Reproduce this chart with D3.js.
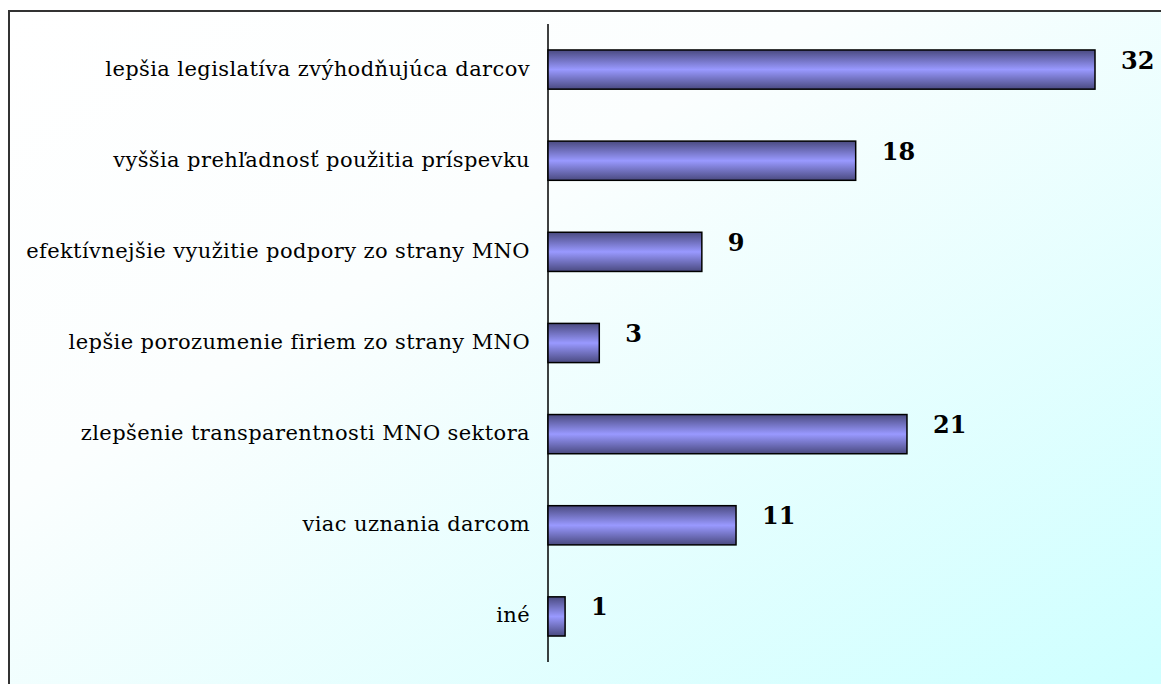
<!DOCTYPE html>
<html>
<head>
<meta charset="utf-8">
<script src="https://cdn.jsdelivr.net/npm/d3@7"></script>
<style>
  body { margin: 0; background: #fff; }
  svg { display: block; }
</style>
</head>
<body>
<div id="vis"></div>
<script>
let W = 1161;
let H = 684;

// Data
let categories = [
  'lepšia legislatíva zvýhodňujúca darcov',
  'vyššia prehľadnosť použitia príspevku',
  'efektívnejšie využitie podpory zo strany MNO',
  'lepšie porozumenie firiem zo strany MNO',
  'zlepšenie transparentnosti MNO sektora',
  'viac uznania darcom',
  'iné'
];
let values = [32, 18, 9, 3, 21, 11, 1];

let data = categories.map((c, i) => ({ cat: c, val: values[i] }));

let font = '"Palatino Linotype", "Book Antiqua", Palatino, "DejaVu Serif", serif';

let svg = d3.select('#vis').append('svg').attr('width', W).attr('height', H);
let defs = svg.append('defs');

// Background gradient (white -> light cyan)
let bg = defs.append('linearGradient').attr('id', 'bg')
    .attr('x1', '0%').attr('y1', '0%').attr('x2', '100%').attr('y2', '100%');
bg.append('stop').attr('offset', '0%').attr('stop-color', '#ffffff');
bg.append('stop').attr('offset', '35%').attr('stop-color', '#fbfefe');
bg.append('stop').attr('offset', '100%').attr('stop-color', '#ccffff');

// Bar gradient (dark edges, light middle)
let bar = defs.append('linearGradient').attr('id', 'bar')
    .attr('x1', '0').attr('y1', '0').attr('x2', '0').attr('y2', '1');
bar.append('stop').attr('offset', '0%').attr('stop-color', '#4a4a80');
bar.append('stop').attr('offset', '50%').attr('stop-color', '#9999ff');
bar.append('stop').attr('offset', '100%').attr('stop-color', '#4a4a80');

// Frame
svg.append('rect')
    .attr('x', 9).attr('y', 11)
    .attr('width', W + 10).attr('height', H + 10)
    .attr('fill', 'url(#bg)')
    .attr('stroke', '#333').attr('stroke-width', 2);

// Scales
let x = d3.scaleLinear().domain([0, 32]).range([548, 1095]);
let y = d3.scaleBand().domain(categories).range([24, 662]).paddingInner(0.57).paddingOuter(0.285);

// Axis line
svg.append('line')
    .attr('x1', x(0)).attr('x2', x(0))
    .attr('y1', 24).attr('y2', 662)
    .attr('stroke', '#000').attr('stroke-width', 1.5);

// Bars
svg.selectAll('rect.bar').data(data).enter().append('rect')
    .attr('class', 'bar')
    .attr('x', x(0))
    .attr('y', d => y(d.cat))
    .attr('width', d => x(d.val) - x(0))
    .attr('height', y.bandwidth())
    .attr('fill', 'url(#bar)')
    .attr('stroke', '#000').attr('stroke-width', 1.5);

// Category labels
svg.selectAll('text.cat').data(data).enter().append('text')
    .attr('class', 'cat')
    .attr('x', 530)
    .attr('y', d => y(d.cat) + y.bandwidth() / 2 + 6)
    .attr('text-anchor', 'end')
    .attr('font-family', font)
    .attr('font-size', 21)
    .attr('letter-spacing', 0.4)
    .attr('fill', '#000')
    .text(d => d.cat);

// Value labels
svg.selectAll('text.val').data(data).enter().append('text')
    .attr('class', 'val')
    .attr('x', d => x(d.val) + 26)
    .attr('y', d => y(d.cat) + y.bandwidth() / 2 - 1)
    .attr('font-family', font)
    .attr('font-size', 24)
    .attr('font-weight', 'bold')
    .attr('fill', '#000')
    .text(d => d.val);
</script>
</body>
</html>
